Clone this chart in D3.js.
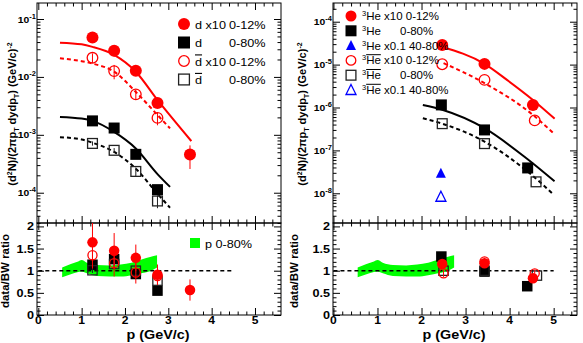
<!DOCTYPE html>
<html><head><meta charset="utf-8">
<script src="https://cdn.jsdelivr.net/npm/d3@7"></script>
<style>body{margin:0;background:#fff} svg{display:block} text{font-family:"Liberation Sans",Arial,Helvetica,sans-serif}</style>
</head><body><svg id="c" width="583" height="343"></svg>
<script>
// ---------------- DATA ----------------
// Left panel: deuterons / anti-deuterons
const dP = [1.25, 1.75, 2.25, 2.75, 3.5];
const dCentral = [0.048, 0.0283, 0.0128, 0.00356, 0.000457];
const dCentralErr = [0.008, 0.006, 0.0015, 0.0006, 0.0002];
const dMBP = [1.25, 1.75, 2.25, 2.75];
const dMB = [1.74e-3, 1.31e-3, 4.6e-4, 1.13e-4];
const dMBErr = [1e-4, 8e-5, 4e-5, 1.5e-5];
const dbarCentralP = [1.25, 1.75, 2.25, 2.75];
const dbarCentral = [0.0214, 0.0126, 0.0050, 0.00196];
const dbarCentralErr = [0.004, 0.0035, 0.001, 0.0005];
const dbarMBP = [1.25, 1.75, 2.25, 2.75];
const dbarMB = [7.1e-4, 5.4e-4, 2.33e-4, 7.2e-5];
const dbarMBErr = [6e-5, 5e-5, 4e-5, 1.8e-5];

// Blast-wave fit curves
const fitDCentralP = [0.5, 1.0, 1.25, 1.75, 2.25, 2.75, 3.53];
const fitDCentral = [0.039, 0.0365, 0.033, 0.024, 0.0123, 0.0040, 7.8e-4];
const fitDbarCentralP = [0.5, 1.0, 1.25, 1.75, 2.25, 2.75, 3.04];
const fitDbarCentral = [0.021, 0.0187, 0.017, 0.0123, 0.0055, 0.0022, 0.00129];
const fitDMBP = [0.5, 1.0, 1.25, 1.75, 2.25, 2.75, 3.04];
const fitDMB = [2.04e-3, 1.91e-3, 1.74e-3, 1.12e-3, 5.8e-4, 2.1e-4, 1.26e-4];
const fitDbarMBP = [0.5, 1.0, 1.25, 1.75, 2.25, 2.75, 3.04];
const fitDbarMB = [9.1e-4, 8.3e-4, 7.3e-4, 5.06e-4, 2.6e-4, 9.6e-5, 5.5e-5];

// Left ratio panel
const rDCentral = [1.64, 1.45, 1.29, 0.91, 0.564];
const rDCentralErr = [0.45, 0.4, 0.3, 0.23, 0.24];
const rDMB = [1.135, 1.26, 0.925, 0.55];
const rDMBErr = [0.05, 0.05, 0.05, 0.05];
const rDbarCentral = [1.35, 1.17, 0.96, 0.88];
const rDbarCentralErr = [0.3, 0.3, 0.25, 0.2];
const rDbarMB = [1.01, 1.15, 1.0, 0.775];
const rDbarMBErr = [0.06, 0.08, 0.06, 0.08];

// Proton 0-80% data/BW band
const bandP  = [0.55, 0.75, 0.92, 1.0, 1.12, 1.35, 1.65, 1.9, 2.15, 2.4, 2.58, 2.74];
const bandHi = [1.07, 1.15, 1.21, 1.24, 1.18, 1.13, 1.12, 1.14, 1.18, 1.26, 1.31, 1.35];
const bandLo = [0.85, 0.92, 0.97, 0.98, 0.94, 0.88, 0.87, 0.87, 0.90, 0.95, 0.99, 1.07];

// Right panel: 3He / anti-3He
const heCentralP = [2.47, 3.43, 4.53];
const heCentral = [2.88e-5, 1.04e-5, 1.15e-6];
const heMBP = [2.45, 3.43, 4.41];
const heMB = [1.15e-6, 3.0e-7, 3.9e-8];
const hePeriphP = [2.44];
const hePeriph = [2.95e-8];
const aheCentralP = [2.47, 3.43, 4.57];
const aheCentral = [1.02e-5, 4.4e-6, 5.0e-7];
const aheMBP = [2.47, 3.43, 4.6];
const aheMB = [4.2e-7, 1.44e-7, 1.85e-8];
const ahePeriphP = [2.44];
const ahePeriph = [8.3e-9];

const fitHeCentralP = [2.45, 3.43, 3.94, 4.53, 5.02];
const fitHeCentral = [2.6e-5, 1.04e-5, 4.4e-6, 1.5e-6, 5.5e-7];
const fitAheCentralP = [2.5, 3.43, 4.53, 5.0];
const fitAheCentral = [1.08e-5, 3.7e-6, 6.7e-7, 2.5e-7];
const fitHeMBP = [2.03, 2.47, 3.43, 4.41, 5.02];
const fitHeMB = [1.15e-6, 8.9e-7, 3.3e-7, 6.2e-8, 1.9e-8];
const fitAheMBP = [2.03, 2.47, 3.43, 4.41, 5.0];
const fitAheMB = [5.6e-7, 4.2e-7, 1.6e-7, 3.2e-8, 9.3e-9];

// Right ratio panel
const rHeCentralP = [2.47, 3.43, 4.53];
const rHeCentral = [1.15, 1.17, 0.83];
const rHeCentralErr = [0.08, 0.08, 0.06];
const rHeMBP = [2.45, 3.43, 4.4];
const rHeMB = [1.32, 0.98, 0.65];
const rAheCentralP = [2.5, 3.43, 4.57];
const rAheCentral = [0.94, 1.21, 0.94];
const rAheCentralErr = [0.08, 0.08, 0.08];
const rAheMBP = [2.5, 3.43, 4.62];
const rAheMB = [1.0, 1.0, 0.89];

// Axis ticks
const xMajor = [0, 1, 2, 3, 4, 5];
const xTickLabels = ["0", "1", "2", "3", "4", "5"];
const ratioMajor = [0, 0.5, 1, 1.5, 2];
const ratioTickLabels = ["0", "0.5", "1", "1.5", "2"];
const leftDecades = [-4, -3, -2, -1];
const rightDecades = [-8, -7, -6, -5, -4];

// ---------------- DRAWING ----------------
const RED = "#ff0000", BLUE = "#0000ff", GREEN = "#00ff00";
const SX = 1.15;
const svg = d3.select("#c");
const TOP = 3, MID = 223, BOT = 315;

function htext(parent, x, y, str, o) {
  const g = parent.append("g").attr("transform", `translate(${x},${y}) scale(${SX},1)`);
  const t = g.append("text").attr("text-anchor", o.anchor || "start")
    .attr("font-size", o.size).attr("font-weight", o.weight || "normal").attr("fill", o.fill || "#000");
  if (str != null) t.text(str);
  return t;
}

function marker(g, type, cx, cy, color, s) {
  s = s || 11;
  const r = s / 2;
  if (type === "circle") g.append("circle").attr("cx", cx).attr("cy", cy).attr("r", r).attr("fill", color);
  else if (type === "ocircle") g.append("circle").attr("cx", cx).attr("cy", cy).attr("r", r - 0.7).attr("fill", "none").attr("stroke", color).attr("stroke-width", 1.3);
  else if (type === "square") g.append("rect").attr("x", cx - r).attr("y", cy - r).attr("width", s).attr("height", s).attr("fill", color);
  else if (type === "osquare") g.append("rect").attr("x", cx - r + 0.6).attr("y", cy - r + 0.6).attr("width", s - 1.2).attr("height", s - 1.2).attr("fill", "none").attr("stroke", color).attr("stroke-width", 1.3);
  else if (type === "tri" || type === "otri") {
    const h = s;
    const pts = [[cx, cy - h * 0.55], [cx + r, cy + h * 0.45], [cx - r, cy + h * 0.45]];
    const p = g.append("polygon").attr("points", pts.map(q => q.join(",")).join(" "));
    if (type === "tri") p.attr("fill", color);
    else p.attr("fill", "none").attr("stroke", color).attr("stroke-width", 1.3);
  }
}

function series(g, x, y, ps, vals, errs, type, color, s) {
  if (errs) {
    ps.forEach((p, i) => {
      g.append("line").attr("x1", x(p)).attr("x2", x(p))
        .attr("y1", y(vals[i] - errs[i] > 0 ? vals[i] - errs[i] : vals[i] * 0.01)).attr("y2", y(vals[i] + errs[i]))
        .attr("stroke", color).attr("stroke-width", 1);
    });
  }
  ps.forEach((p, i) => marker(g, type, x(p), y(vals[i]), color, s));
}

function curve(g, x, y, ps, vals, color, dashed) {
  const line = d3.line().x(d => x(d[0])).y(d => y(d[1])).curve(d3.curveMonotoneX);
  g.append("path").attr("d", line(ps.map((p, i) => [p, vals[i]])))
    .attr("fill", "none").attr("stroke", color).attr("stroke-width", 2)
    .attr("stroke-dasharray", dashed ? "4,3" : null);
}

function ticks(g, axis, transform, values, size) {
  const a = g.append("g").attr("transform", transform)
    .call(axis.tickValues(values).tickSize(size).tickFormat(""));
  a.select(".domain").remove();
  a.selectAll("line").attr("stroke", "#000").attr("stroke-width", 1);
}

let clipId = 0;
function clip(x0, y0, x1, y1) {
  const id = "clip" + (clipId++);
  svg.append("clipPath").attr("id", id).append("rect").attr("x", x0).attr("y", y0).attr("width", x1 - x0).attr("height", y1 - y0);
  return "url(#" + id + ")";
}

function panel(cfg) {
  const { x, y, r, x0, x1, decades } = cfg;
  const g = svg.append("g");
  // X ticks
  const xMinor = d3.range(1, 28).filter(i => i % 5 !== 0).map(i => i * 0.2).filter(v => x(v) < x1 - 0.5);
  [[TOP, d3.axisBottom], [MID, d3.axisTop], [MID, d3.axisBottom], [BOT, d3.axisTop]].forEach(([yy, ax]) => {
    ticks(g, ax(x), `translate(0,${yy})`, xMajor, 7);
    ticks(g, ax(x), `translate(0,${yy})`, xMinor, 3.5);
  });
  // Log ticks
  const yMajor = decades.map(e => Math.pow(10, e));
  const yMinor = [];
  for (let e = decades[0] - 1; e <= decades[decades.length - 1]; e++)
    for (let k = 2; k <= 9; k++) { const v = k * Math.pow(10, e); if (v > y.domain()[0] && v < y.domain()[1]) yMinor.push(v); }
  ticks(g, d3.axisRight(y), `translate(${x0},0)`, yMajor, 7);
  ticks(g, d3.axisRight(y), `translate(${x0},0)`, yMinor, 3.5);
  ticks(g, d3.axisLeft(y), `translate(${x1},0)`, yMajor, 7);
  ticks(g, d3.axisLeft(y), `translate(${x1},0)`, yMinor, 3.5);
  // Ratio ticks
  const rMinor = d3.range(1, 21).filter(i => i % 5 !== 0).map(i => i / 10);
  ticks(g, d3.axisRight(r), `translate(${x0},0)`, ratioMajor, 7);
  ticks(g, d3.axisRight(r), `translate(${x0},0)`, rMinor, 3.5);
  ticks(g, d3.axisLeft(r), `translate(${x1},0)`, ratioMajor, 7);
  ticks(g, d3.axisLeft(r), `translate(${x1},0)`, rMinor, 3.5);

  // Frames
  g.append("rect").attr("x", x0).attr("y", TOP).attr("width", x1 - x0).attr("height", MID - TOP).attr("fill", "none").attr("stroke", "#000");
  g.append("rect").attr("x", x0).attr("y", MID).attr("width", x1 - x0).attr("height", BOT - MID).attr("fill", "none").attr("stroke", "#000");

  // Log labels
  decades.forEach(e => {
    const t = htext(g, x0 - 1, y(Math.pow(10, e)) + 3.5, null, { anchor: "end", size: 9, weight: "bold" });
    t.append("tspan").text("10");
    t.append("tspan").attr("font-size", 6.5).attr("dy", -4).text(String(e));
  });
  // Ratio labels
  ratioMajor.forEach((v, i) => htext(g, x0 - 3, r(v) + 4, ratioTickLabels[i], { anchor: "end", size: 11, weight: "bold" }));
  // X labels
  xMajor.forEach((v, i) => htext(g, x(v), BOT + 8.5, xTickLabels[i], { anchor: "middle", size: 10.5, weight: "bold" }));
  // X title
  htext(g, (x0 + x1) / 2 - 1, BOT + 24, "p  (GeV/c)", { anchor: "middle", size: 12.5, weight: "bold" });
  // Y titles
  const yt = g.append("text").attr("transform", `translate(${x0 - cfg.yTitleOff},${(TOP + MID) / 2 + 1}) rotate(-90)`)
    .attr("text-anchor", "middle").attr("font-size", 11).attr("font-weight", "bold");
  yt.append("tspan").text("(d");
  yt.append("tspan").attr("font-size", 7).attr("dy", -4).text("2");
  yt.append("tspan").attr("dy", 4).text("N)/(2\u03c0p");
  yt.append("tspan").attr("font-size", 7).attr("dy", 3).text("T");
  yt.append("tspan").attr("dy", -3).text(" dydp");
  yt.append("tspan").attr("font-size", 7).attr("dy", 3).text("T");
  yt.append("tspan").attr("dy", -3).text(") (GeV/c)");
  yt.append("tspan").attr("font-size", 7).attr("dy", -4).text("-2");
  g.append("text").attr("transform", `translate(${x0 - cfg.rTitleOff},${(MID + BOT) / 2 + 2}) rotate(-90)`)
    .attr("text-anchor", "middle").attr("font-size", 11.5).attr("font-weight", "bold").text("data/BW ratio");

  const top = g.append("g").attr("clip-path", clip(x0, TOP, x1, MID));
  const bot = g.append("g").attr("clip-path", clip(x0, MID, x1, BOT));
  // band + reference line
  const area = d3.area().x(d => x(d[0])).y0(d => r(d[1])).y1(d => r(d[2])).curve(d3.curveMonotoneX);
  bot.append("path").attr("d", area(bandP.map((p, i) => [p, bandLo[i], bandHi[i]]))).attr("fill", GREEN);
  bot.append("line").attr("x1", x(0)).attr("x2", x(cfg.lineEnd)).attr("y1", r(1)).attr("y2", r(1))
    .attr("stroke", "#000").attr("stroke-width", 1.6).attr("stroke-dasharray", "4,3");
  return { g, top, bot };
}

// ---------- Left panel ----------
const xL = d3.scaleLinear().domain([-0.03, 5.6]).range([37, 281]);
const yL = d3.scaleLog().domain([3.0e-5, 0.189]).range([MID, TOP]);
const rL = d3.scaleLinear().domain([0, 2.077]).range([BOT, MID]);
const L = panel({ x: xL, y: yL, r: rL, x0: 37, x1: 281, decades: leftDecades, lineEnd: 4.5, yTitleOff: 21, rTitleOff: 28.5 });

curve(L.top, xL, yL, fitDCentralP, fitDCentral, RED, false);
curve(L.top, xL, yL, fitDbarCentralP, fitDbarCentral, RED, true);
curve(L.top, xL, yL, fitDMBP, fitDMB, "#000", false);
curve(L.top, xL, yL, fitDbarMBP, fitDbarMB, "#000", true);
series(L.top, xL, yL, dP, dCentral, dCentralErr, "circle", RED, 12);
series(L.top, xL, yL, dMBP, dMB, dMBErr, "square", "#000", 11);
series(L.top, xL, yL, dbarCentralP, dbarCentral, dbarCentralErr, "ocircle", RED, 12);
series(L.top, xL, yL, dbarMBP, dbarMB, dbarMBErr, "osquare", "#222", 11);

series(L.bot, xL, rL, dMBP, rDMB, rDMBErr, "square", "#000", 10.5);
series(L.bot, xL, rL, dbarMBP, rDbarMB, rDbarMBErr, "osquare", "#222", 10.5);
series(L.bot, xL, rL, dP, rDCentral, rDCentralErr, "circle", RED, 10.5);
series(L.bot, xL, rL, dbarCentralP, rDbarCentral, rDbarCentralErr, "ocircle", RED, 10.5);

// Left legend
const legL = svg.append("g");
const legLRows = [
  ["circle", RED, " x10", "0-12%", false],
  ["square", "#000", "", "0-80%", false],
  ["ocircle", RED, " x10", "0-12%", true],
  ["osquare", "#222", "", "0-80%", true]
];
legLRows.forEach((row, i) => {
  const yy = 24 + i * 18.5;
  marker(legL, row[0], 184, yy, row[1], 12);
  const t = htext(legL, 195, yy + 4.5, null, { size: 11 });
  const n = t.append("tspan").text("d");
  if (row[4]) n.style("text-decoration", "overline");
  if (row[2]) t.append("tspan").text(row[2]);
  htext(legL, 229, yy + 4.5, row[3], { size: 11 });
});
marker(legL, "square", 195, 243, GREEN, 10);
htext(legL, 205, 247.5, "p  0-80%", { size: 11 });

// ---------- Right panel ----------
const xR = d3.scaleLinear().domain([-0.01, 5.53]).range([333, 577]);
const yR = d3.scaleLog().domain([2.03e-9, 2.73e-4]).range([MID, TOP]);
const rR = d3.scaleLinear().domain([0, 2.077]).range([BOT, MID]);
const R = panel({ x: xR, y: yR, r: rR, x0: 333, x1: 577, decades: rightDecades, lineEnd: 5.0, yTitleOff: 27, rTitleOff: 35 });

curve(R.top, xR, yR, fitHeCentralP, fitHeCentral, RED, false);
curve(R.top, xR, yR, fitAheCentralP, fitAheCentral, RED, true);
curve(R.top, xR, yR, fitHeMBP, fitHeMB, "#000", false);
curve(R.top, xR, yR, fitAheMBP, fitAheMB, "#000", true);
series(R.top, xR, yR, heCentralP, heCentral, null, "circle", RED, 12);
series(R.top, xR, yR, heMBP, heMB, null, "square", "#000", 11);
series(R.top, xR, yR, hePeriphP, hePeriph, null, "tri", BLUE, 10);
series(R.top, xR, yR, aheCentralP, aheCentral, null, "ocircle", RED, 12);
series(R.top, xR, yR, aheMBP, aheMB, null, "osquare", "#222", 11);
series(R.top, xR, yR, ahePeriphP, ahePeriph, null, "otri", BLUE, 10);

series(R.bot, xR, rR, rHeMBP, rHeMB, null, "square", "#000", 10.5);
series(R.bot, xR, rR, rAheMBP, rAheMB, null, "osquare", "#222", 10.5);
series(R.bot, xR, rR, rHeCentralP, rHeCentral, rHeCentralErr, "circle", RED, 10.5);
series(R.bot, xR, rR, rAheCentralP, rAheCentral, rAheCentralErr, "ocircle", RED, 10.5);

// Right legend
const legR = svg.append("g");
const legRRows = [
  ["circle", RED, false, " x10 0-12%", null],
  ["square", "#000", false, "", "0-80%"],
  ["tri", BLUE, false, " x0.1 40-80%", null],
  ["ocircle", RED, true, " x10 0-12%", null],
  ["osquare", "#222", true, "", "0-80%"],
  ["otri", BLUE, true, " x0.1 40-80%", null]
];
legRRows.forEach((row, i) => {
  const yy = 16 + i * 14.8;
  marker(legR, row[0], 351, yy, row[1], row[0].includes("tri") ? 10 : 11);
  const t = htext(legR, 362, yy + 4, null, { size: 10 });
  t.append("tspan").attr("font-size", 6.5).attr("dy", -4).text("3");
  const he = t.append("tspan").attr("dy", 4).text("He");
  if (row[2]) he.style("text-decoration", "overline");
  if (row[3]) t.append("tspan").text(row[3]);
  if (row[4]) htext(legR, 400, yy + 4, row[4], { size: 10 });
});
</script></body></html>
